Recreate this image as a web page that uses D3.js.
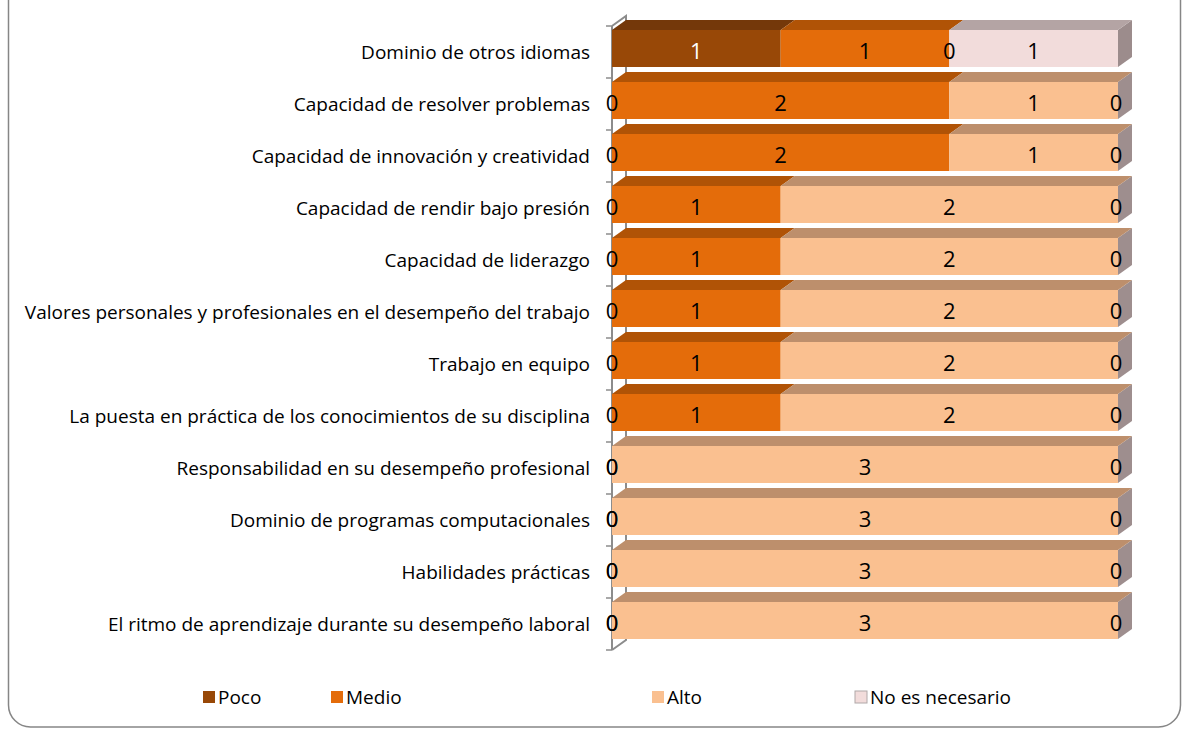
<!DOCTYPE html>
<html lang="es">
<head>
    <meta charset="utf-8">
    <title>Competencias</title>
    <script src="https://d3js.org/d3.v7.min.js"></script>
    <style>
      body { margin: 0; background: #fff; }
      text { font-family: "Open Sans", sans-serif; }
    </style>
</head>
<body>
<svg id="chart"></svg>
<script>
    // categories, top to bottom
    const categories = [
        "Dominio de otros idiomas",
        "Capacidad de resolver problemas",
        "Capacidad de innovación y creatividad",
        "Capacidad de rendir bajo presión",
        "Capacidad de liderazgo",
        "Valores personales y profesionales en el desempeño del trabajo",
        "Trabajo en equipo",
        "La puesta en práctica de los conocimientos de su disciplina",
        "Responsabilidad en su desempeño profesional",
        "Dominio de programas computacionales",
        "Habilidades prácticas",
        "El ritmo de aprendizaje durante su desempeño laboral"
    ];

    const seriesNames = ["Poco", "Medio", "Alto", "No es necesario"];

    const poco = [1, 0, 0, 0, 0, 0, 0, 0, 0, 0, 0, 0];
    const medio = [1, 2, 2, 1, 1, 1, 1, 1, 0, 0, 0, 0];
    const alto = [0, 1, 1, 2, 2, 2, 2, 2, 3, 3, 3, 3];
    const noNecesario = [1, 0, 0, 0, 0, 0, 0, 0, 0, 0, 0, 0];

    const seriesValues = [poco, medio, alto, noNecesario];

    // colours: front face, top face, side face
    const frontColors = ["#984807", "#e46c0a", "#fac090", "#f2dcdb"];
    const topColors = ["#74380a", "#b05306", "#bd8f6c", "#b4a4a4"];
    const sideColors = ["#6a3305", "#9e4c08", "#9e8e8e", "#9c8c8c"];

    const W = 1183, H = 729;
    const depthX = 14, depthY = 10;

    const svg = d3.select("#chart")
        .attr("width", W)
        .attr("height", H);

    // outer rounded border
    svg.append("rect")
        .attr("x", 8.5).attr("y", -40)
        .attr("width", 1172).attr("height", 767)
        .attr("rx", 22)
        .attr("fill", "#fff")
        .attr("stroke", "#868686")
        .attr("stroke-width", 1.5);

    const x = d3.scaleLinear().domain([0, 3]).range([612, 1118]);
    const y = d3.scaleBand().domain(categories).range([26, 650]);

    const barTop = 4, barH = 37;

    // axis: back wall line and front line
    const axisG = svg.append("g")
        .attr("stroke", "#8c8c8c")
        .attr("fill", "none");
    axisG.append("path")
        .attr("stroke-width", 2)
        .attr("d", `M${x(0)},${y.range()[0]} L${x(0) + depthX},${y.range()[0] - depthY}
                    L${x(0) + depthX},${y.range()[1] - depthY} L${x(0)},${y.range()[1]}`);
    axisG.append("line")
        .attr("stroke-width", 2)
        .attr("x1", x(0)).attr("x2", x(0))
        .attr("y1", y.range()[0]).attr("y2", y.range()[1]);
    const ticks = categories.map(c => y(c)).concat([y.range()[1]]);
    axisG.selectAll(".tick")
        .data(ticks)
        .join("line")
        .attr("stroke-width", 1.5)
        .attr("x1", x(0) - 6).attr("x2", x(0))
        .attr("y1", d => d).attr("y2", d => d);

    // stack rows
    const rows = categories.map((c, i) => {
        let acc = 0;
        return seriesValues.map((s, k) => {
            const seg = {cat: c, k: k, v: s[i], x0: acc, x1: acc + s[i]};
            acc += s[i];
            return seg;
        });
    });

    const barsG = svg.append("g");
    rows.forEach(row => {
        const g = barsG.append("g");
        const y0 = y(row[0].cat) + barTop;
        const segs = row.filter(d => d.v > 0);
        const last = segs[segs.length - 1];

        // side face of rightmost segment
        g.append("path")
            .attr("fill", sideColors[last.k])
            .attr("d", `M${x(last.x1)},${y0} L${x(last.x1) + depthX},${y0 - depthY}
                        L${x(last.x1) + depthX},${y0 + barH - depthY} L${x(last.x1)},${y0 + barH}Z`);

        segs.forEach(d => {
            g.append("path")
                .attr("fill", topColors[d.k])
                .attr("d", `M${x(d.x0)},${y0} L${x(d.x0) + depthX},${y0 - depthY}
                            L${x(d.x1) + depthX},${y0 - depthY} L${x(d.x1)},${y0}Z`);
            g.append("rect")
                .attr("x", x(d.x0))
                .attr("y", y0)
                .attr("width", x(d.x1) - x(d.x0))
                .attr("height", barH)
                .attr("fill", frontColors[d.k]);
        });

        // value labels
        g.selectAll("text")
            .data(row)
            .join("text")
            .attr("x", d => (x(d.x0) + x(d.x1)) / 2 + (d.v === 0 && d.x0 === 3 ? -2 : 0))
            .attr("y", y0 + barH / 2 + 1)
            .attr("text-anchor", "middle")
            .attr("dominant-baseline", "central")
            .attr("font-size", 22)
            .attr("fill", d => d.k === 0 && d.v > 0 ? "#fff" : "#000")
            .text(d => d.v);
    });

    // category labels
    svg.append("g")
        .selectAll("text")
        .data(categories)
        .join("text")
        .attr("x", 590)
        .attr("y", d => y(d) + y.bandwidth() / 2)
        .attr("text-anchor", "end")
        .attr("dominant-baseline", "central")
        .attr("font-size", 19)
        .attr("fill", "#000")
        .text(d => d);

    // legend
    const legendX = [203, 331, 652, 855];
    const legend = svg.append("g")
        .selectAll("g")
        .data(seriesNames)
        .join("g")
        .attr("transform", (d, i) => `translate(${legendX[i]},697)`);
    legend.append("rect")
        .attr("x", 0).attr("y", -6)
        .attr("width", 12).attr("height", 12)
        .attr("fill", (d, i) => frontColors[i])
        .attr("stroke", (d, i) => i === 3 ? "#b0a8a8" : "none");
    legend.append("text")
        .attr("x", 15)
        .attr("y", 0)
        .attr("dominant-baseline", "central")
        .attr("font-size", 19)
        .text(d => d);
</script>
</body>
</html>
